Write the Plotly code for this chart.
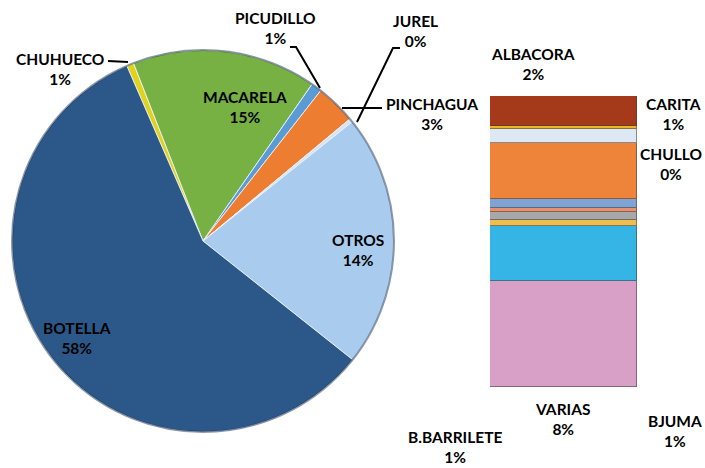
import plotly.graph_objects as go

W, H = 705, 468

# ---- Pie data (clockwise, starting at Chuhueco) ----
pie_labels = ["CHUHUECO", "MACARELA", "PICUDILLO", "PINCHAGUA", "JUREL", "OTROS", "BOTELLA"]
pie_values = [0.6, 15.6, 0.9, 3.4, 0.3, 21.4, 57.8]
pie_colors = ["#E2D31A", "#77B043", "#5A9BD5", "#ED7D31", "#D6E4F2", "#A9CCEE", "#2B5888"]
pie_text = ["CHUHUECO<br>1%", "MACARELA<br>15%", "PICUDILLO<br>1%", "PINCHAGUA<br>3%",
            "JUREL<br>0%", "OTROS<br>14%", "BOTELLA<br>58%"]

# ---- Bar (breakdown of OTROS), top to bottom ----
bar_labels = ["ALBACORA", "CHULLO", "CARITA", "SEG 4", "SEG 5", "SEG 6", "SEG 7",
              "SEG 8", "SEG 9", "VARIAS"]
bar_values = [2.2, 0.27, 1.0, 4.2, 0.7, 0.25, 0.6, 0.45, 4.1, 7.9]
bar_colors = ["#A53A1A", "#EDB62A", "#DCE8F3", "#EE843A", "#7FA3D3", "#E99070",
              "#A8A8A8", "#EEBE50", "#35B5E6", "#D8A0C6"]
bar_text = ["ALBACORA<br>2%", "CARITA<br>1%", "CHULLO<br>0%", "VARIAS<br>8%",
            "BJUMA<br>1%", "B.BARRILETE<br>1%"]


def px(x):
    return x / W


def py(y):
    return 1 - y / H


fig = go.Figure()

fig.add_trace(go.Pie(
    labels=pie_labels, values=pie_values, sort=False, direction="clockwise",
    rotation=-23.5, textinfo="none", hoverinfo="label+percent",
    marker=dict(colors=pie_colors, line=dict(color="rgba(235,242,250,0.9)", width=1)),
    domain=dict(x=[px(12), px(394)], y=[py(432), py(50)]),
    showlegend=False,
))

for lab, val, col in reversed(list(zip(bar_labels, bar_values, bar_colors))):
    fig.add_trace(go.Bar(
        x=[0], y=[val], name=lab, width=1, marker=dict(color=col,
        line=dict(color="rgba(60,60,60,0.55)", width=1)),
        xaxis="x", yaxis="y", showlegend=False, hoverinfo="name+y",
    ))

total_bar = sum(bar_values)

# label positions (centers, px)
pie_label_pos = {
    "CHUHUECO<br>1%": (60, 69),
    "MACARELA<br>15%": (245, 107),
    "PICUDILLO<br>1%": (275, 28),
    "PINCHAGUA<br>3%": (432, 114),
    "JUREL<br>0%": (415, 31),
    "OTROS<br>14%": (358, 250),
    "BOTELLA<br>58%": (77, 338),
}
bar_label_pos = {
    "ALBACORA<br>2%": (533, 64),
    "CARITA<br>1%": (673, 114),
    "CHULLO<br>0%": (671, 164),
    "VARIAS<br>8%": (562, 419),
    "BJUMA<br>1%": (675, 431),
    "B.BARRILETE<br>1%": (455, 447),
}

annotations = []
for t in pie_text:
    x, y = pie_label_pos[t]
    annotations.append(dict(x=px(x), y=py(y), xref="paper", yref="paper", text=t,
                            showarrow=False, align="center", xanchor="center", yanchor="middle"))
for t in bar_text:
    x, y = bar_label_pos[t]
    annotations.append(dict(x=px(x), y=py(y), xref="paper", yref="paper", text=t,
                            showarrow=False, align="center", xanchor="center", yanchor="middle"))


def path(points):
    s = "M " + " L ".join(f"{px(x):.5f},{py(y):.5f}" for x, y in points)
    return s


leaders = [
    [(108, 61), (128, 62)],
    [(290, 47), (296, 47), (320, 88)],
    [(400, 48), (393, 48), (357, 122)],
    [(342, 108), (382, 108)],
]
shapes = [dict(type="path", path=path(p), xref="paper", yref="paper",
               line=dict(color="black", width=2)) for p in leaders]
# soft outline of the pie
shapes.append(dict(type="circle", xref="paper", yref="paper",
                   x0=px(12), x1=px(394), y0=py(432), y1=py(50),
                   line=dict(color="rgba(20,40,70,0.45)", width=2)))

fig.update_layout(
    width=W, height=H, margin=dict(l=0, r=0, t=0, b=0),
    paper_bgcolor="white", plot_bgcolor="rgba(0,0,0,0)",
    font=dict(family="Lato", size=15.5, color="black", weight="bold"),
    barmode="stack", bargap=0,
    xaxis=dict(domain=[px(490), px(637)], range=[-0.5, 0.5], visible=False, fixedrange=True),
    yaxis=dict(domain=[py(387), py(96)], range=[0, total_bar], visible=False, fixedrange=True),
    annotations=annotations, shapes=shapes,
)

fig.write_html("out.html", config={"displayModeBar": False},
               post_script="document.body.style.margin='0';")
